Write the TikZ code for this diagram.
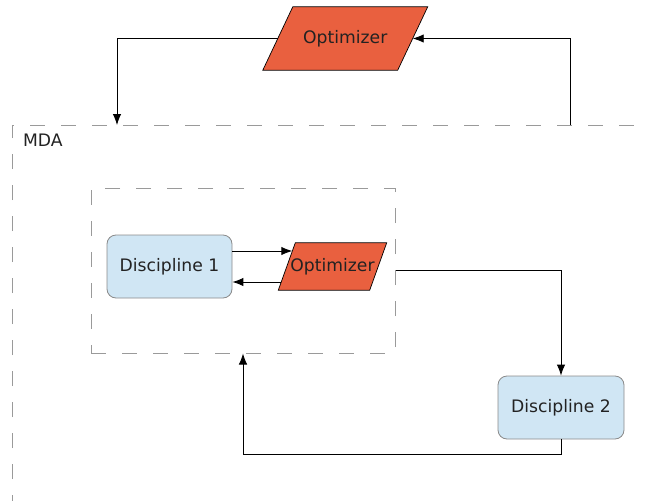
\documentclass[tikz,border=0pt]{standalone}
\usepackage{fontspec}
\setmainfont{DejaVu Sans}
\usetikzlibrary{arrows.meta,calc}

\definecolor{optfill}{HTML}{E9603F}
\definecolor{discfill}{HTML}{D0E6F4}
\definecolor{discline}{HTML}{8A8A8A}
\definecolor{frameline}{HTML}{9A9A9A}
\definecolor{txt}{HTML}{222222}

\tikzset{
  label text/.style={font=\fontsize{17.2}{20}\selectfont, text=txt},
  discbox/.style={label text, rectangle, rounded corners=9pt, draw=discline,
    fill=discfill, line width=0.8pt, inner sep=0pt},
  optanchor/.style={label text, rectangle, inner sep=0pt},
  optshape/.style={draw=black, fill=optfill, line width=0.7pt},
  framebox/.style={draw=frameline, line width=1pt, dash pattern=on 15pt off 16pt},
  arr/.style={draw=black, line width=0.9pt, -{Latex[length=11pt,width=8.5pt]}},
  link/.style={draw=black, line width=0.9pt},
}

% skewed box drawn around an invisible anchor node
\newcommand{\skewbox}[2]{%
  \fill[optshape] ($(#1.north west)+(#2,0)$) -- ($(#1.north east)+(#2,0)$)
    -- ($(#1.south east)-(#2,0)$) -- ($(#1.south west)-(#2,0)$) -- cycle;}

\begin{document}
\begin{tikzpicture}[x=1pt,y=-1pt]
  \useasboundingbox (0,0) rectangle (646,501);

  % outer MDA frame (runs past the right and bottom edges)
  \draw[framebox] (12,510) -- (12,125) -- (660,125);
  \node[label text, anchor=base west] (mda) at (19.5,146) {MDA};
  \coordinate (mdain) at (117,125);
  \coordinate (mdaout) at (570,125);

  % inner dashed frame
  \node[framebox, rectangle, minimum width=304pt, minimum height=165pt,
        inner sep=0pt] (inner) at (243,270.5) {};

  % top optimizer
  \node[optanchor, minimum width=134.5pt, minimum height=63pt] (opt) at (345.25,38.5) {};
  \skewbox{opt}{15}
  \node[label text] (optlbl) at (opt) {Optimizer};

  % inner optimizer
  \node[optanchor, minimum width=91pt, minimum height=47pt] (opti) at (332.5,266.5) {};
  \skewbox{opti}{8.5}
  \node[label text] (optilbl) at (opti) {Optimizer};

  % disciplines
  \node[discbox, minimum width=125pt, minimum height=63pt] (d1) at (169.5,266.5) {Discipline 1};
  \node[discbox, minimum width=126pt, minimum height=63pt] (d2) at (561,407.5) {Discipline 2};

  % connectors
  \draw[arr] (opt.west) -| (mdain);
  \draw[arr] (mdaout) |- (opt.east);
  \draw[arr] ([yshift=15.5pt]d1.east) -- ([xshift=5.5pt,yshift=15.5pt]opti.west);
  \draw[arr] ([xshift=-5.5pt,yshift=-15.5pt]opti.west) -- ([yshift=-15.5pt]d1.east);
  \draw[arr] (inner.east) -| (d2.north);
  \draw[arr] (d2.south) -- ++(0,15) -| (inner.south);
\end{tikzpicture}
\end{document}
